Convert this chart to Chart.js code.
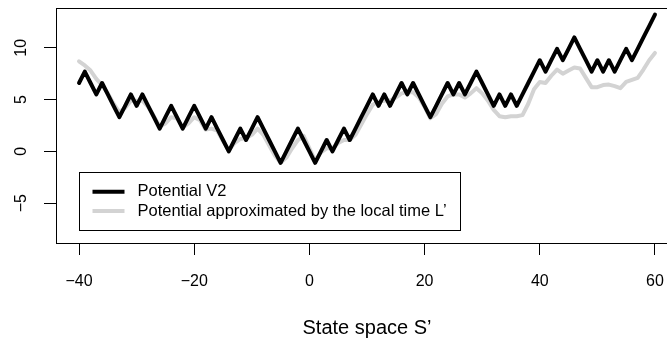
<!DOCTYPE html>
<html lang="en">
<head>
    <meta charset="UTF-8">
    <title>Potential V2</title>
    <script src="https://cdn.jsdelivr.net/npm/chart.js"></script>
    <style>
        html, body {
            margin: 0;
            padding: 0;
            background: #ffffff;
            overflow: hidden;
        }
        canvas {
            display: block;
        }
    </style>
</head>
<body>
    <canvas id="potentialCanvas" width="700" height="343"></canvas>

    <script>
        // state space S' (x) and the two potentials
        const statePoints = [
            -40, -39, -38, -37, -36, -35, -34, -33, -32, -31,
            -30, -29, -28, -27, -26, -25, -24, -23, -22, -21,
            -20, -19, -18, -17, -16, -15, -14, -13, -12, -11,
            -10, -9, -8, -7, -6, -5, -4, -3, -2, -1,
            0, 1, 2, 3, 4, 5, 6, 7, 8, 9,
            10, 11, 12, 13, 14, 15, 16, 17, 18, 19,
            20, 21, 22, 23, 24, 25, 26, 27, 28, 29,
            30, 31, 32, 33, 34, 35, 36, 37, 38, 39,
            40, 41, 42, 43, 44, 45, 46, 47, 48, 49,
            50, 51, 52, 53, 54, 55, 56, 57, 58, 59,
            60
        ];

        const potentialV2 = [
            6.6, 7.7, 6.6, 5.5, 6.6, 5.5, 4.4, 3.3, 4.4, 5.5,
            4.4, 5.5, 4.4, 3.3, 2.2, 3.3, 4.4, 3.3, 2.2, 3.3,
            4.4, 3.3, 2.2, 3.3, 2.2, 1.1, 0, 1.1, 2.2, 1.1,
            2.2, 3.3, 2.2, 1.1, 0, -1.1, 0, 1.1, 2.2, 1.1,
            0, -1.1, 0, 1.1, 0, 1.1, 2.2, 1.1, 2.2, 3.3,
            4.4, 5.5, 4.4, 5.5, 4.4, 5.5, 6.6, 5.5, 6.6, 5.5,
            4.4, 3.3, 4.4, 5.5, 6.6, 5.5, 6.6, 5.5, 6.6, 7.7,
            6.6, 5.5, 4.4, 5.5, 4.4, 5.5, 4.4, 5.5, 6.6, 7.7,
            8.8, 7.7, 8.8, 9.9, 8.8, 9.9, 11, 9.9, 8.8, 7.7,
            8.8, 7.7, 8.8, 7.7, 8.8, 9.9, 8.8, 9.9, 11, 12.1,
            13.2
        ];

        const potentialLocalTime = [
            8.7, 8.3, 7.8, 7.0, 6.4, 5.6, 4.6, 3.8, 4.2, 4.9,
            4.9, 4.9, 4.3, 3.4, 2.4, 2.7, 3.3, 3.2, 2.3, 2.7,
            3.3, 3.0, 2.1, 2.2, 2.0, 1.0, 0.1, 0.8, 1.2, 1.3,
            1.6, 2.2, 1.6, 0.6, -0.4, -1.1, -0.6, 0.3, 1.1, 1.5,
            0.3, -0.9, -0.1, 0.3, 0.3, 0.8, 1.1, 1.1, 1.6, 2.6,
            3.6, 4.5, 4.8, 4.9, 4.9, 5.2, 5.6, 5.7, 5.7, 5.2,
            4.3, 3.2, 3.6, 4.6, 5.3, 5.5, 5.5, 5.2, 5.6, 6.1,
            5.6, 4.9, 4.0, 3.4, 3.3, 3.4, 3.4, 3.5, 4.6, 6.0,
            6.7, 6.6, 7.3, 7.9, 7.5, 7.8, 8.1, 8.0, 7.1, 6.2,
            6.2, 6.4, 6.45, 6.3, 6.1, 6.7, 6.9, 7.1, 7.9, 8.8,
            9.5
        ];

        const xTicks = [-40, -20, 0, 20, 40, 60];
        const yTicks = [-5, 0, 5, 10];

        const seriesNames = ["Potential V2", "Potential approximated by the local time L\u2019"];

        Chart.defaults.font.family = "'Liberation Sans', Arial, sans-serif";
        Chart.defaults.color = "#000";

        // R style minus sign
        function minusLabel(v) {
            return String(v).replace("-", "\u2212");
        }

        // no extra room for tick labels at the axis ends
        function noEndPadding(s) {
            s.paddingTop = 0;
            s.paddingBottom = 0;
            s.paddingLeft = 0;
            s.paddingRight = 0;
        }

        // box around the plot region
        const frameBox = {
            id: "frameBox",
            afterDraw(chart) {
                const a = chart.chartArea;
                const ctx = chart.ctx;
                ctx.save();
                ctx.strokeStyle = "#000";
                ctx.lineWidth = 1;
                ctx.strokeRect(a.left + 0.5, a.top + 0.5, a.right - a.left, a.bottom - a.top);
                ctx.restore();
            }
        };

        // boxed legend at the bottom left of the plot
        const boxLegend = {
            id: "boxLegend",
            afterDraw(chart) {
                const ctx = chart.ctx;
                const sets = chart.data.datasets;
                ctx.save();
                ctx.fillStyle = "#fff";
                ctx.fillRect(79.5, 172.5, 381, 58);
                ctx.strokeStyle = "#000";
                ctx.lineWidth = 1;
                ctx.strokeRect(79.5, 172.5, 381, 58);

                ctx.font = "16.5px 'Liberation Sans', Arial, sans-serif";
                ctx.textBaseline = "middle";
                ctx.textAlign = "left";
                sets.forEach((ds, i) => {
                    const y = 191.7 + i * 19.3;
                    ctx.strokeStyle = ds.borderColor;
                    ctx.lineWidth = ds.borderWidth;
                    ctx.lineCap = "butt";
                    ctx.beginPath();
                    ctx.moveTo(92.5, y);
                    ctx.lineTo(124.5, y);
                    ctx.stroke();
                    ctx.fillStyle = "#000";
                    ctx.fillText(ds.label, 137.5, y);
                });
                ctx.restore();
            }
        };

        const toPoints = ys => statePoints.map((x, i) => ({ x: x, y: ys[i] }));

        new Chart(document.getElementById("potentialCanvas"), {
            type: "line",
            data: {
                datasets: [
                    {
                        label: seriesNames[0],
                        data: toPoints(potentialV2),
                        borderColor: "#000000",
                        borderWidth: 4,
                        pointRadius: 0,
                        tension: 0,
                        borderJoinStyle: "round",
                        borderCapStyle: "round"
                    },
                    {
                        label: seriesNames[1],
                        data: toPoints(potentialLocalTime),
                        borderColor: "#d3d3d3",
                        borderWidth: 4,
                        pointRadius: 0,
                        tension: 0,
                        borderJoinStyle: "round",
                        borderCapStyle: "round"
                    }
                ]
            },
            options: {
                responsive: false,
                animation: false,
                events: [],
                layout: {
                    padding: { left: 0, top: 8, right: 22, bottom: 0 }
                },
                plugins: {
                    legend: { display: false },
                    tooltip: { enabled: false }
                },
                scales: {
                    x: {
                        type: "linear",
                        min: -44,
                        max: 64,
                        afterBuildTicks: s => { s.ticks = xTicks.map(v => ({ value: v })); },
                        afterFit: s => { s.height = 100; noEndPadding(s); },
                        grid: {
                            drawOnChartArea: false,
                            drawTicks: true,
                            tickLength: 12,
                            color: "#000",
                            lineWidth: 1
                        },
                        border: { display: false },
                        ticks: {
                            font: { size: 16 },
                            padding: 17,
                            maxRotation: 0,
                            callback: v => minusLabel(v)
                        },
                        title: {
                            display: true,
                            text: "State space S\u2019",
                            font: { size: 20 },
                            padding: { top: 0, bottom: 3 }
                        }
                    },
                    y: {
                        min: -8.84,
                        max: 13.84,
                        afterBuildTicks: s => { s.ticks = yTicks.map(v => ({ value: v })); },
                        afterFit: s => { s.width = 56; noEndPadding(s); },
                        grid: {
                            drawOnChartArea: false,
                            drawTicks: true,
                            tickLength: 12,
                            color: "#000",
                            lineWidth: 1
                        },
                        border: { display: false },
                        ticks: {
                            font: { size: 16 },
                            minRotation: 90,
                            maxRotation: 90,
                            crossAlign: "center",
                            padding: 13,
                            callback: v => minusLabel(v)
                        }
                    }
                }
            },
            plugins: [frameBox, boxLegend]
        });
    </script>
</body>
</html>
